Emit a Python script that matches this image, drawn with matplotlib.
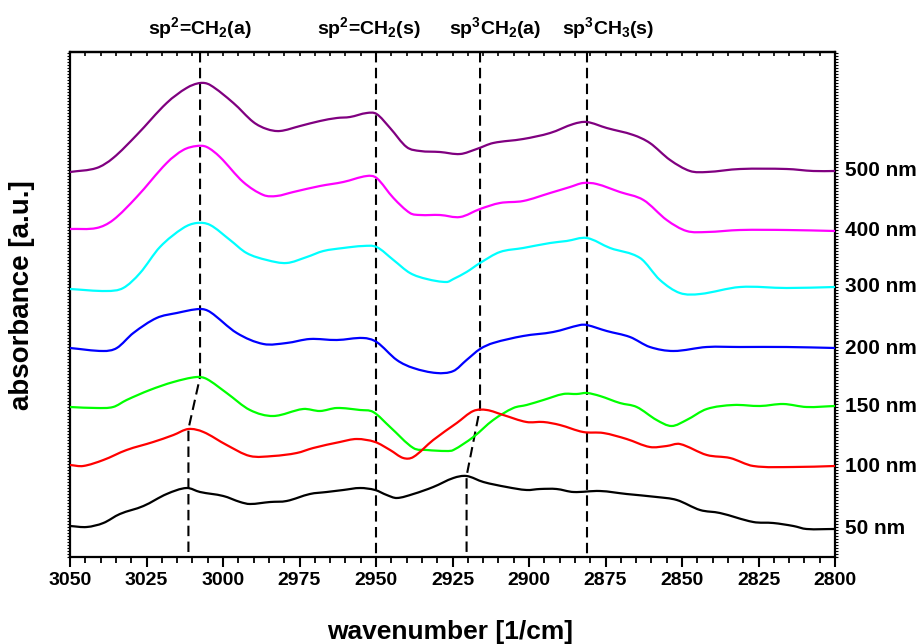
import matplotlib
matplotlib.use("Agg")
import numpy as np
import matplotlib.pyplot as plt
from matplotlib.ticker import MultipleLocator, NullFormatter
from matplotlib.path import Path
from matplotlib.patches import PathPatch
import matplotlib.transforms as mtransforms

plt.rcParams['font.family'] = ['Liberation Sans', 'DejaVu Sans']
plt.rcParams['font.weight'] = 'bold'
plt.rcParams['mathtext.default'] = 'regular'

# ---- spectra (wavenumber in 1/cm, absorbance in a.u., offset stacked) ----
wn_500 = [3050.0, 3041.3, 3035.9, 3028.2, 3018.4, 3011.9, 3007.5, 3004.2, 2996.6, 2990.1,
          2985.7, 2981.4, 2974.8, 2968.3, 2962.8, 2958.5, 2953.0, 2949.8, 2945.4, 2940.0,
          2935.6, 2929.1, 2922.5, 2917.1, 2911.7, 2901.9, 2893.1, 2885.5, 2881.1, 2874.6,
          2865.9, 2860.5, 2853.9, 2847.4, 2841.9, 2831.0, 2815.8, 2807.1, 2800.0]
ab_500 = [3.85, 3.89, 3.99, 4.22, 4.54, 4.69, 4.74, 4.72, 4.54, 4.35,
          4.28, 4.26, 4.31, 4.36, 4.39, 4.40, 4.44, 4.43, 4.29, 4.10,
          4.06, 4.05, 4.03, 4.08, 4.14, 4.18, 4.24, 4.33, 4.35, 4.29,
          4.22, 4.14, 3.97, 3.86, 3.85, 3.88, 3.88, 3.86, 3.86]

wn_400 = [3050.0, 3041.3, 3035.9, 3028.2, 3018.4, 3013.0, 3008.6, 3005.3, 3001.0, 2993.4,
          2986.8, 2982.5, 2977.0, 2968.3, 2960.7, 2953.0, 2949.8, 2944.3, 2938.9, 2935.6,
          2929.1, 2922.5, 2916.0, 2909.5, 2901.9, 2893.1, 2886.6, 2882.3, 2877.9, 2870.3,
          2862.6, 2855.0, 2848.5, 2841.9, 2831.0, 2815.8, 2800.0]
ab_400 = [3.28, 3.29, 3.37, 3.60, 3.94, 4.07, 4.11, 4.10, 4.00, 3.75,
          3.62, 3.61, 3.65, 3.71, 3.75, 3.81, 3.79, 3.59, 3.44, 3.42,
          3.42, 3.40, 3.48, 3.54, 3.56, 3.64, 3.70, 3.74, 3.73, 3.65,
          3.57, 3.37, 3.26, 3.25, 3.27, 3.27, 3.26]

wn_300 = [3050.0, 3038.0, 3032.6, 3027.1, 3020.6, 3013.0, 3008.6, 3004.2, 2997.7, 2992.3,
          2985.7, 2979.2, 2972.6, 2967.2, 2960.7, 2954.2, 2949.8, 2944.3, 2938.9, 2933.4,
          2926.9, 2924.7, 2920.4, 2916.0, 2909.5, 2901.9, 2893.1, 2887.7, 2881.1, 2873.5,
          2863.7, 2857.2, 2850.7, 2844.1, 2831.0, 2815.8, 2800.0]
ab_300 = [2.68, 2.66, 2.69, 2.84, 3.10, 3.29, 3.34, 3.32, 3.17, 3.04,
          2.97, 2.94, 3.00, 3.06, 3.09, 3.11, 3.10, 2.97, 2.84, 2.78,
          2.75, 2.78, 2.85, 2.94, 3.05, 3.09, 3.14, 3.16, 3.19, 3.09,
          2.99, 2.77, 2.64, 2.63, 2.70, 2.69, 2.70]

wn_200 = [3050.0, 3039.1, 3034.7, 3029.3, 3021.7, 3015.1, 3007.5, 3004.2, 2995.5, 2986.8,
          2979.2, 2971.6, 2962.8, 2954.2, 2949.8, 2943.2, 2937.8, 2930.2, 2924.7, 2920.4,
          2916.0, 2911.7, 2901.9, 2892.1, 2883.3, 2881.1, 2874.6, 2867.0, 2860.5, 2852.8,
          2841.9, 2831.0, 2815.8, 2800.0]
ab_200 = [2.09, 2.06, 2.09, 2.24, 2.39, 2.44, 2.48, 2.45, 2.24, 2.13,
          2.14, 2.18, 2.17, 2.19, 2.15, 1.97, 1.89, 1.84, 1.86, 1.97,
          2.08, 2.14, 2.21, 2.25, 2.32, 2.32, 2.26, 2.20, 2.10, 2.06,
          2.10, 2.10, 2.10, 2.09]

wn_150 = [3050.0, 3041.3, 3035.9, 3031.5, 3023.9, 3016.2, 3008.6, 3005.3, 2998.8, 2991.2,
          2983.6, 2973.8, 2968.3, 2962.8, 2955.2, 2950.9, 2945.4, 2937.8, 2933.4, 2926.9,
          2924.7, 2918.2, 2911.7, 2905.1, 2900.8, 2895.3, 2888.8, 2884.4, 2881.1, 2876.8,
          2870.3, 2864.8, 2858.3, 2853.4, 2848.5, 2841.9, 2833.2, 2824.5, 2816.9, 2809.3,
          2800.0]
ab_150 = [1.50, 1.49, 1.50, 1.57, 1.67, 1.75, 1.80, 1.78, 1.64, 1.47,
          1.41, 1.48, 1.46, 1.49, 1.47, 1.45, 1.30, 1.09, 1.07, 1.06,
          1.07, 1.20, 1.37, 1.49, 1.52, 1.57, 1.63, 1.63, 1.64, 1.61,
          1.54, 1.50, 1.37, 1.31, 1.37, 1.48, 1.52, 1.51, 1.53, 1.50,
          1.51]

wn_100 = [3050.0, 3045.7, 3039.1, 3031.5, 3022.8, 3016.2, 3011.3, 3006.4, 2998.8, 2991.2,
          2983.6, 2975.9, 2970.5, 2961.8, 2956.3, 2950.3, 2945.4, 2941.1, 2937.8, 2931.3,
          2923.6, 2918.2, 2913.8, 2908.4, 2900.8, 2895.3, 2889.9, 2882.3, 2875.7, 2868.1,
          2860.5, 2855.0, 2850.7, 2841.9, 2834.3, 2826.7, 2813.6, 2800.0]
ab_100 = [0.92, 0.91, 0.97, 1.07, 1.15, 1.22, 1.28, 1.25, 1.12, 1.01,
          1.01, 1.04, 1.09, 1.15, 1.18, 1.15, 1.07, 0.99, 1.00, 1.17,
          1.34, 1.46, 1.47, 1.42, 1.35, 1.35, 1.32, 1.25, 1.24, 1.18,
          1.10, 1.11, 1.13, 1.02, 0.99, 0.91, 0.90, 0.91]

wn_50 = [3050.0, 3044.5, 3039.1, 3033.7, 3026.0, 3018.4, 3011.9, 3007.5, 2999.9, 2994.4,
         2991.2, 2984.6, 2979.2, 2971.6, 2966.1, 2960.7, 2955.2, 2950.3, 2946.5, 2943.2,
         2937.8, 2931.3, 2924.7, 2920.4, 2914.9, 2907.3, 2900.8, 2896.4, 2891.0, 2885.5,
         2876.8, 2868.1, 2858.3, 2851.7, 2844.1, 2837.6, 2826.7, 2820.2, 2813.6, 2809.3,
         2800.0]
ab_50 = [0.31, 0.30, 0.34, 0.43, 0.51, 0.63, 0.69, 0.65, 0.61, 0.55,
         0.53, 0.55, 0.56, 0.63, 0.65, 0.67, 0.69, 0.67, 0.62, 0.59,
         0.63, 0.70, 0.79, 0.81, 0.75, 0.70, 0.67, 0.68, 0.68, 0.65,
         0.66, 0.63, 0.60, 0.57, 0.47, 0.44, 0.35, 0.34, 0.31, 0.28,
         0.28]

thickness_labels = ['500 nm', '400 nm', '300 nm', '200 nm', '150 nm', '100 nm', '50 nm']
curve_colors = ['#800080', '#ff00ff', '#00ffff', '#0000ff', '#00ff00', '#ff0000', '#000000']
spectra = [(wn_500, ab_500), (wn_400, ab_400), (wn_300, ab_300), (wn_200, ab_200),
           (wn_150, ab_150), (wn_100, ab_100), (wn_50, ab_50)]

# band assignments and the guide lines tracking their positions
band_labels = [r'sp$^2$=CH$_2$(a)', r'sp$^2$=CH$_2$(s)', r'sp$^3$CH$_2$(a)', r'sp$^3$CH$_3$(s)']
band_label_pos = [3007.5, 2952.5, 2911.0, 2874.0]
guide_wn = [[3007.5, 3007.5, 3011.3, 3011.3],
            [2950.0, 2950.0],
            [2916.0, 2916.0, 2920.4, 2920.4],
            [2881.1, 2881.1]]
guide_ab = [[5.05, 1.80, 1.28, 0.0],
            [5.05, 0.0],
            [5.05, 1.49, 0.81, 0.0],
            [5.05, 0.0]]


def smooth_trace(x, y):
    """Cubic Hermite path through the measured points (Bezier segments)."""
    x = np.asarray(x, float)
    y = np.asarray(y, float)
    n = len(x)
    slope = np.empty(n)
    slope[1:-1] = (y[2:] - y[:-2]) / (x[2:] - x[:-2])
    slope[0] = (y[1] - y[0]) / (x[1] - x[0])
    slope[-1] = (y[-1] - y[-2]) / (x[-1] - x[-2])
    verts = [(x[0], y[0])]
    codes = [Path.MOVETO]
    for i in range(n - 1):
        h = x[i + 1] - x[i]
        verts.append((x[i] + h / 3, y[i] + slope[i] * h / 3))
        verts.append((x[i + 1] - h / 3, y[i + 1] - slope[i + 1] * h / 3))
        verts.append((x[i + 1], y[i + 1]))
        codes += [Path.CURVE4] * 3
    return Path(verts, codes)


fig = plt.figure(figsize=(9.21, 6.44), dpi=100)
ax = fig.add_axes([70 / 921, 1 - 557 / 644, 765 / 921, 505 / 644])

for (wn, ab), c in zip(spectra, curve_colors):
    ax.add_patch(PathPatch(smooth_trace(wn, ab), fill=False, edgecolor=c, lw=1.6,
                           joinstyle='round', capstyle='round', zorder=3))

for gx, gy in zip(guide_wn, guide_ab):
    ax.plot(gx, gy, color='black', lw=1.5, linestyle=(0, (5, 2.6)), zorder=2)

ax.set_xlim(3050, 2800)
ax.set_ylim(0, 5.05)

# curve labels at the right edge, aligned with each trace's end value
trans_r = mtransforms.blended_transform_factory(ax.transAxes, ax.transData)
for (wn, ab), lab in zip(spectra, thickness_labels):
    ax.text(1.013, ab[-1], lab, transform=trans_r, ha='left', va='center',
            fontsize=15, fontweight='bold')

trans_t = mtransforms.blended_transform_factory(ax.transData, ax.transAxes)
for xp, lab in zip(band_label_pos, band_labels):
    ax.text(xp, 1.047, lab, transform=trans_t, ha='center', va='center',
            fontsize=14, fontweight='bold')

# axes frame and ticks
for sp in ax.spines.values():
    sp.set_linewidth(1.6)

ax.xaxis.set_major_locator(MultipleLocator(25))
ax.xaxis.set_minor_locator(MultipleLocator(5))
ax.tick_params(axis='x', which='major', direction='out', length=7, width=1.5,
               labelsize=14, pad=4, top=False)
ax.tick_params(axis='x', which='minor', direction='out', length=4, width=1.3, top=False)
for t in ax.get_xticklabels():
    t.set_fontweight('bold')

ax.yaxis.set_major_locator(MultipleLocator(0.03))
ax.yaxis.set_major_formatter(NullFormatter())
ax.tick_params(axis='y', which='major', direction='out', length=2.2, width=0.8,
               left=True, right=True, labelleft=False)

top = ax.secondary_xaxis('top')
top.xaxis.set_major_locator(MultipleLocator(5))
top.tick_params(axis='x', direction='in', length=3, width=1.2, labeltop=False)
top.spines['top'].set_linewidth(1.6)

ax.set_xlabel('wavenumber [1/cm]', fontsize=19, fontweight='bold')
ax.xaxis.set_label_coords(0.497, -0.1485)
ax.xaxis.label.set_va('center')
ax.set_ylabel('absorbance [a.u.]', fontsize=20, fontweight='bold')
ax.yaxis.set_label_coords(-0.0627, 0.519)
ax.yaxis.label.set_va('center')

fig.savefig('out.png', dpi=100)
